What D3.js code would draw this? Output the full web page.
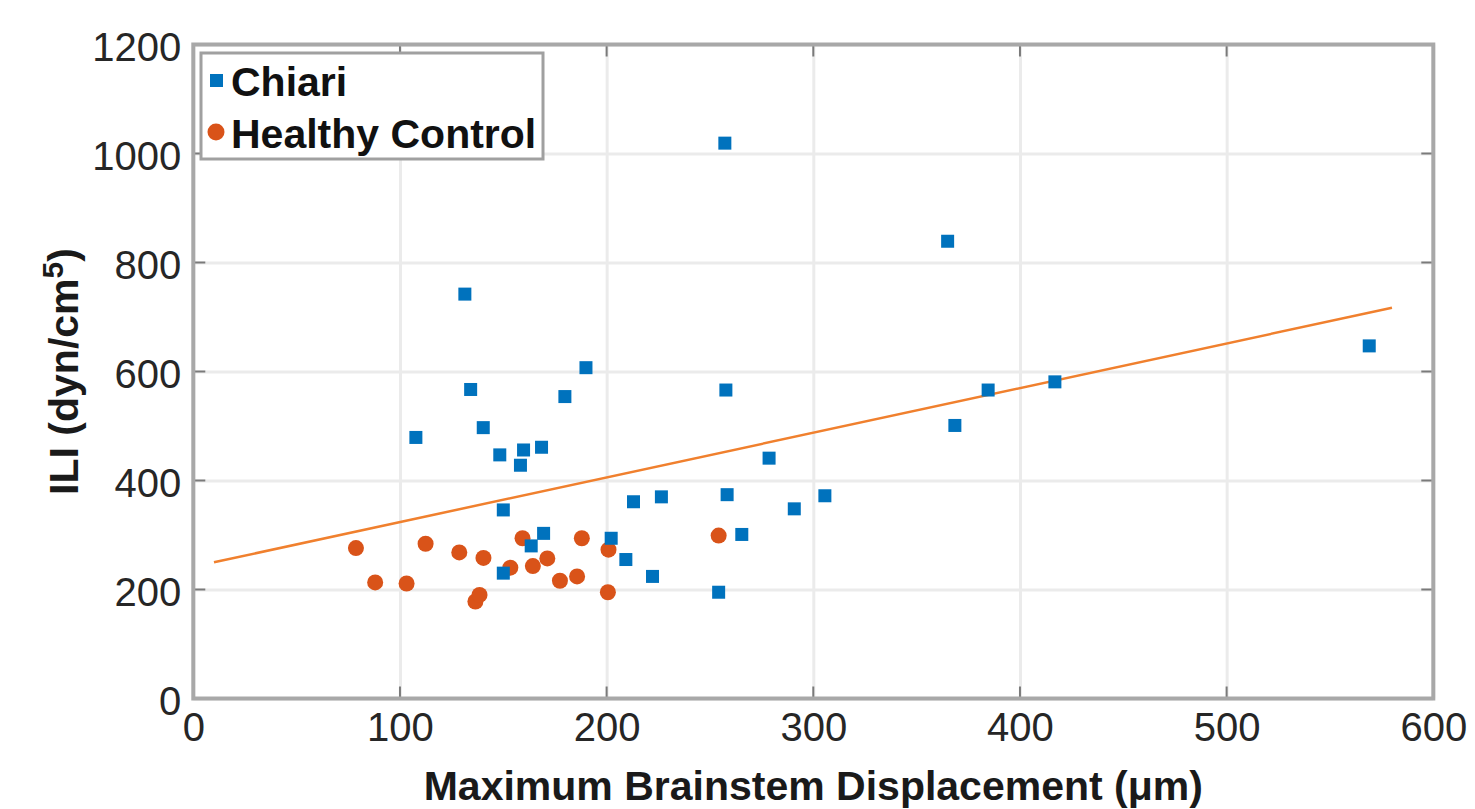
<!DOCTYPE html>
<html lang="en">
<head>
<meta charset="utf-8"/>
<title>ILI vs brainstem displacement</title>
<style>
    body { margin: 0; background: #fff; }
    svg { display: block; font-family: "Liberation Sans", Arial, sans-serif; }
    .grid line { stroke: #ebebeb; stroke-width: 3px; }
    .grid path { display: none; }
    .tick-labels text { font-size: 40px; fill: #262626; }
    .tick-labels path, .tick-labels line { display: none; }
    .box { fill: none; stroke: #a8a8a8; stroke-width: 4px; }
    .ticks line { stroke: #7a7a7a; stroke-width: 2px; }
    .label { font-size: 41px; font-weight: bold; fill: #1a1a1a; }
    .legend text { font-size: 41px; font-weight: bold; fill: #111; }
</style>
</head>
<body>
<div class="viz"></div>
<script src="https://cdnjs.cloudflare.com/ajax/libs/d3/7.8.5/d3.min.js"></script>
<script>
    // values
    var chiariX = [107.7, 131.4, 134.2, 140.3, 148.3, 159.8, 168.5, 158.3, 150, 169.5, 163.5, 150,
                   179.8, 190, 202.2, 209.3, 213, 222.2, 226.5, 254.2, 257.2, 257.7, 258.3, 265.4,
                   278.6, 290.8, 305.6, 365, 368.5, 384.6, 416.9, 569];
    var chiariY = [479, 742, 567, 497, 447, 456, 461, 428, 346, 303, 280, 230,
                   554, 607, 294, 255, 361, 224, 370, 195, 1019, 566, 374, 301,
                   441, 348, 372, 839, 501, 566, 581, 647];
    var controlX = [78.7, 88, 103.2, 112.4, 128.7, 140.4, 136.5, 138.5, 153.4, 159.3, 164.3,
                    171.3, 177.4, 185.7, 188, 200.9, 200.6, 254.2];
    var controlY = [276, 213, 211, 284, 268, 258, 178, 190, 240, 294, 243,
                    257, 216, 224, 294, 273, 195, 299];
    var fitX = [10, 580];
    var fitY = [250, 717];
    var xTicks = [0, 100, 200, 300, 400, 500, 600];
    var yTicks = [0, 200, 400, 600, 800, 1000, 1200];
    var seriesNames = ["Chiari", "Healthy Control"];

    var W = 1475, H = 809;
    var margin = {top: 44.5, left: 193.3, right: 41.7, bottom: 110.5};
    var width = W - margin.left - margin.right,
        height = H - margin.top - margin.bottom;

    var blue = "#0072BD", red = "#D95319", fitColor = "#F0802E";

    var svg = d3.select(".viz").append("svg")
        .attr("width", W)
        .attr("height", H);

    var g = svg.append("g")
        .attr("transform", "translate(" + margin.left + "," + margin.top + ")");

    var x = d3.scaleLinear().domain([0, 600]).range([0, width]);
    var y = d3.scaleLinear().domain([0, 1200]).range([height, 0]);

    // grid
    g.append("g")
        .attr("class", "grid")
        .attr("transform", "translate(0," + height + ")")
        .call(d3.axisBottom(x).tickValues(xTicks).tickSize(-height).tickFormat(""));
    g.append("g")
        .attr("class", "grid")
        .call(d3.axisLeft(y).tickValues(yTicks).tickSize(-width).tickFormat(""));

    // tick labels
    g.append("g")
        .attr("class", "tick-labels")
        .attr("transform", "translate(0," + height + ")")
        .call(d3.axisBottom(x).tickValues(xTicks).tickSize(0).tickPadding(14).tickFormat(d3.format("d")));
    g.append("g")
        .attr("class", "tick-labels")
        .call(d3.axisLeft(y).tickValues(yTicks).tickSize(0).tickPadding(12).tickFormat(d3.format("d")))
        .selectAll("text").attr("dy", "0.4em");

    // inward ticks on all four sides
    var tk = g.append("g").attr("class", "ticks");
    tk.selectAll(".xb").data(xTicks).enter().append("line")
        .attr("x1", function(d) { return x(d); }).attr("x2", function(d) { return x(d); })
        .attr("y1", height).attr("y2", height - 12);
    tk.selectAll(".xt").data(xTicks).enter().append("line")
        .attr("x1", function(d) { return x(d); }).attr("x2", function(d) { return x(d); })
        .attr("y1", 0).attr("y2", 12);
    tk.selectAll(".yl").data(yTicks).enter().append("line")
        .attr("y1", function(d) { return y(d); }).attr("y2", function(d) { return y(d); })
        .attr("x1", 0).attr("x2", 12);
    tk.selectAll(".yr").data(yTicks).enter().append("line")
        .attr("y1", function(d) { return y(d); }).attr("y2", function(d) { return y(d); })
        .attr("x1", width).attr("x2", width - 12);

    g.append("rect")
        .attr("class", "box")
        .attr("width", width)
        .attr("height", height);

    // fit line
    g.append("line")
        .attr("x1", x(fitX[0])).attr("y1", y(fitY[0]))
        .attr("x2", x(fitX[1])).attr("y2", y(fitY[1]))
        .attr("stroke", fitColor)
        .attr("stroke-width", 2.5);

    // points
    var chiari = d3.range(chiariX.length).map(function(i) { return [chiariX[i], chiariY[i]]; });
    var control = d3.range(controlX.length).map(function(i) { return [controlX[i], controlY[i]]; });
    var sq = 13;

    g.append("g").selectAll("circle")
        .data(control)
        .enter().append("circle")
        .attr("cx", function(d) { return x(d[0]); })
        .attr("cy", function(d) { return y(d[1]); })
        .attr("r", 8)
        .attr("fill", red);

    g.append("g").selectAll("rect")
        .data(chiari)
        .enter().append("rect")
        .attr("x", function(d) { return x(d[0]) - sq / 2; })
        .attr("y", function(d) { return y(d[1]) - sq / 2; })
        .attr("width", sq)
        .attr("height", sq)
        .attr("fill", blue);

    // legend
    var lg = svg.append("g").attr("class", "legend");
    lg.append("rect")
        .attr("x", 201).attr("y", 53)
        .attr("width", 342).attr("height", 106)
        .attr("fill", "#fff")
        .attr("stroke", "#a0a0a0")
        .attr("stroke-width", 3);
    lg.append("rect")
        .attr("x", 210).attr("y", 74)
        .attr("width", 13).attr("height", 13)
        .attr("fill", blue);
    lg.append("circle")
        .attr("cx", 216).attr("cy", 132)
        .attr("r", 8.5)
        .attr("fill", red);
    lg.append("text").attr("x", 231).attr("y", 96).text(seriesNames[0]);
    lg.append("text").attr("x", 231).attr("y", 148).text(seriesNames[1]);

    // axis labels
    svg.append("text")
        .attr("class", "label")
        .attr("x", margin.left + width / 2)
        .attr("y", 800)
        .attr("text-anchor", "middle")
        .text("Maximum Brainstem Displacement (\u03bcm)");

    var yl = svg.append("text")
        .attr("class", "label")
        .attr("transform", "translate(78," + (margin.top + height / 2) + ") rotate(-90)")
        .attr("text-anchor", "middle");
    yl.append("tspan").text("ILI (dyn/cm");
    yl.append("tspan").attr("dy", "-0.5em").style("font-size", "30px").text("5");
    yl.append("tspan").attr("dy", "0.35em").text(")");
</script>
</body>
</html>
